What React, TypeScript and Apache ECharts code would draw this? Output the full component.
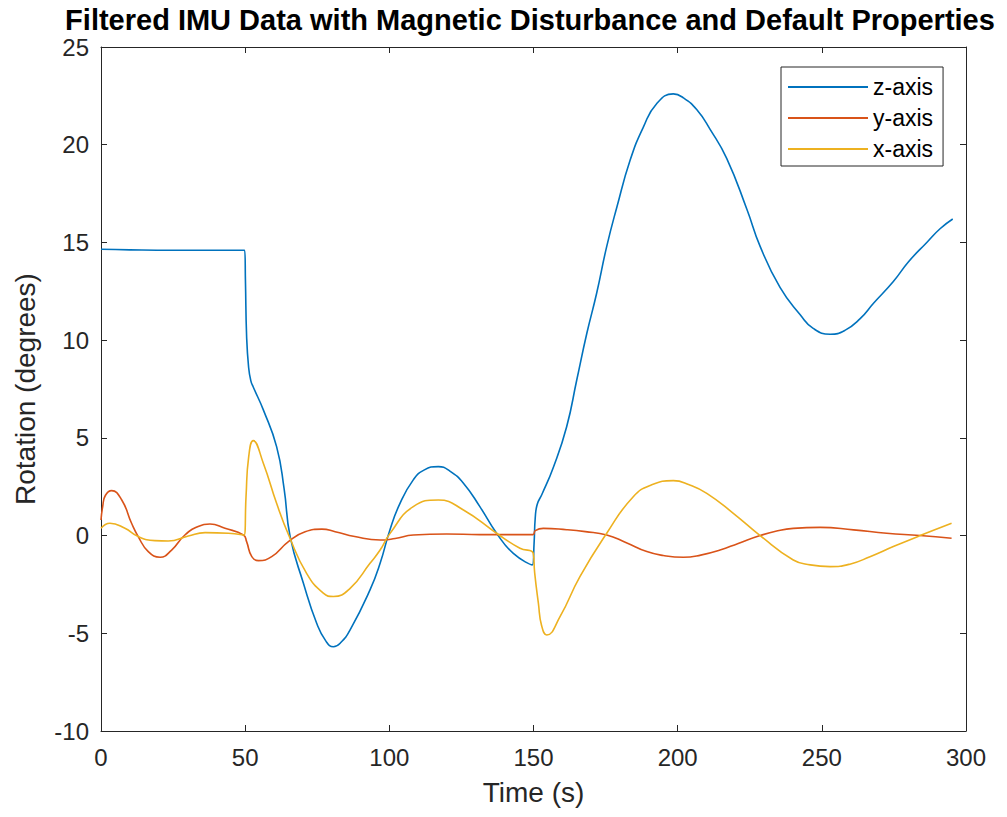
import React, { useEffect, useRef } from "react";
import * as echarts from "echarts";

const TITLE = "Filtered IMU Data with Magnetic Disturbance and Default Properties";
const X_NAME = "Time (s)";
const Y_NAME = "Rotation (degrees)";
const SERIES_NAMES = ["z-axis", "y-axis", "x-axis"];
const SERIES_COLORS = ["#0072BD", "#D95319", "#EDB120"];

// z-axis (blue)
const zTime = [0, 10, 25, 40, 49.8, 50.1, 50.5, 51.2, 52.0, 52.8, 56.3, 60.9, 63.5, 65.6, 70.2, 74.8, 78, 80.6, 83, 86.4, 93.3, 96.8, 100.2, 103.7, 108.3, 112, 117, 121, 125.7, 131.4, 137.2, 143, 149.6, 150.2, 150.6, 151.3, 152.9, 156.9, 161.5, 165, 168.5, 171.9, 175.4, 178.9, 183.5, 188.1, 192.7, 198.5, 202, 206.6, 211.2, 217, 224, 228.6, 235.5, 242.5, 247, 252.9, 258, 263.3, 268, 274.8, 280, 286.4, 291, 295.4];
const zValues = [14.65, 14.62, 14.6, 14.6, 14.6, 13.0, 10.2, 8.6, 7.9, 7.6, 6.43, 4.55, 2.4, -0.05, -2.44, -4.49, -5.4, -5.69, -5.5, -4.83, -2.78, -1.42, 0.29, 1.65, 2.85, 3.35, 3.53, 3.3, 2.68, 1.48, 0.12, -0.91, -1.5, -0.4, 0.9, 1.6, 2.1, 3.5, 5.57, 7.96, 10.35, 12.4, 14.8, 16.8, 19.2, 20.9, 22.1, 22.6, 22.4, 21.8, 20.8, 19.3, 16.7, 14.8, 12.7, 11.3, 10.6, 10.3, 10.5, 11.1, 11.9, 13.0, 14.0, 15.0, 15.7, 16.2];

// y-axis (orange)
const yTime = [0, 0.6, 1.5, 3.7, 7.2, 10.6, 12.9, 16.4, 20.5, 24.5, 29.1, 33.7, 37.8, 43, 49.4, 50.5, 52.3, 54.6, 59.2, 65, 70.8, 76.6, 81.2, 88, 96.8, 102, 108.3, 119.9, 131.4, 149.8, 150.6, 153.4, 161.5, 168, 175.4, 182, 189.3, 195, 202, 208, 214.7, 221, 228.6, 234, 240.1, 249.4, 261, 272.5, 284, 295];
const yValues = [0.8, 1.5, 2.05, 2.3, 1.82, 0.63, -0.05, -0.82, -1.11, -0.74, 0.03, 0.46, 0.59, 0.37, 0.03, -0.31, -1.08, -1.28, -1.08, -0.31, 0.2, 0.33, 0.2, -0.05, -0.23, -0.15, 0.03, 0.08, 0.05, 0.05, 0.25, 0.37, 0.3, 0.2, 0.03, -0.35, -0.82, -1.02, -1.11, -1.0, -0.74, -0.4, 0, 0.22, 0.37, 0.42, 0.29, 0.12, 0, -0.14];

// x-axis (yellow)
const xTime = [0, 3.1, 8.3, 12.9, 18.7, 23.3, 30.3, 36.1, 44.2, 49.6, 50.3, 51.2, 52.8, 56.3, 60.9, 65.3, 71.3, 77.1, 80.6, 86.4, 93.3, 96.8, 100.2, 108.3, 117, 125.7, 137.2, 145.3, 149.9, 150.4, 151.7, 152.8, 154.6, 159.2, 166.1, 175.4, 184.6, 191, 198.5, 204, 210.1, 219.3, 228.6, 240.1, 246, 252.9, 260, 266.7, 275, 284.1, 295];
const xValues = [0.37, 0.63, 0.37, -0.05, -0.26, -0.28, -0.02, 0.15, 0.12, 0.03, 2.0, 4.0, 4.86, 3.7, 1.65, -0.05, -1.93, -2.95, -3.12, -2.7, -1.42, -0.74, 0.1, 1.48, 1.82, 1.31, 0.12, -0.65, -0.91, -1.9, -3.47, -4.6, -5.09, -4.15, -2.1, 0.12, 1.99, 2.6, 2.81, 2.6, 2.16, 1.14, 0, -1.25, -1.5, -1.59, -1.45, -1.08, -0.55, 0, 0.63];

const X_MIN = 0, X_MAX = 300, X_STEP = 50;
const Y_MIN = -10, Y_MAX = 25, Y_STEP = 5;

const FONT = "'Liberation Sans', Arial, Helvetica, sans-serif";
const AXIS_COLOR = "#262626";

function pairs(t: number[], v: number[]) {
  return t.map((x, i) => [x, v[i]]);
}

export default function App() {
  const ref = useRef<HTMLDivElement>(null);
  useEffect(() => {
    if (!ref.current) return;
    const chart = echarts.init(ref.current, undefined, { renderer: "svg" });
    const axisCommon = {
      axisLine: { show: true, onZero: false, lineStyle: { color: AXIS_COLOR, width: 1 } },
      axisTick: { show: true, inside: true, length: 6, lineStyle: { color: AXIS_COLOR } },
      splitLine: { show: false },
    };
    const datasets = [pairs(zTime, zValues), pairs(yTime, yValues), pairs(xTime, xValues)];
    chart.setOption({
      animation: false,
      backgroundColor: "#ffffff",
      textStyle: { fontFamily: FONT },
      graphic: [
        {
          type: "text",
          x: 530,
          y: 20,
          style: {
            text: TITLE,
            fill: "#000000",
            font: `bold 29px ${FONT}`,
            textAlign: "center",
            textVerticalAlign: "middle",
          },
        },
      ],
      grid: { left: 101, right: 41, top: 47, bottom: 86, containLabel: false },
      legend: {
        orient: "vertical",
        left: 781,
        top: 67,
        padding: [8, 10, 5, 7],
        itemGap: 7,
        itemWidth: 80,
        itemHeight: 2,
        icon: "rect",
        borderColor: AXIS_COLOR,
        borderWidth: 1,
        backgroundColor: "#ffffff",
        data: SERIES_NAMES,
        textStyle: { fontSize: 23, lineHeight: 24, color: "#000000", fontFamily: FONT },
      },
      xAxis: [
        {
          type: "value",
          min: X_MIN,
          max: X_MAX,
          interval: X_STEP,
          name: X_NAME,
          nameLocation: "middle",
          nameGap: 47,
          nameTextStyle: { fontSize: 28, color: AXIS_COLOR, fontFamily: FONT },
          axisLabel: { fontSize: 24, color: AXIS_COLOR, margin: 14, fontFamily: FONT },
          ...axisCommon,
        },
        {
          type: "value",
          position: "top",
          min: X_MIN,
          max: X_MAX,
          interval: X_STEP,
          axisLabel: { show: false },
          ...axisCommon,
        },
      ],
      yAxis: [
        {
          type: "value",
          min: Y_MIN,
          max: Y_MAX,
          interval: Y_STEP,
          name: Y_NAME,
          nameLocation: "middle",
          nameGap: 62,
          nameTextStyle: { fontSize: 28, color: AXIS_COLOR, fontFamily: FONT },
          axisLabel: { fontSize: 24, color: AXIS_COLOR, margin: 12, fontFamily: FONT },
          ...axisCommon,
        },
        {
          type: "value",
          position: "right",
          min: Y_MIN,
          max: Y_MAX,
          interval: Y_STEP,
          axisLabel: { show: false },
          ...axisCommon,
        },
      ],
      series: SERIES_NAMES.map((name, i) => ({
        name,
        type: "line",
        data: datasets[i],
        symbol: "none",
        showSymbol: false,
        smooth: 0.5,
        color: SERIES_COLORS[i],
        lineStyle: { color: SERIES_COLORS[i], width: 1.6 },
        z: 2 + i,
      })),
    });
    return () => chart.dispose();
  }, []);
  return (
    <div
      ref={ref}
      style={{ position: "fixed", left: 0, top: 0, width: 1007, height: 817, background: "#fff" }}
    />
  );
}
